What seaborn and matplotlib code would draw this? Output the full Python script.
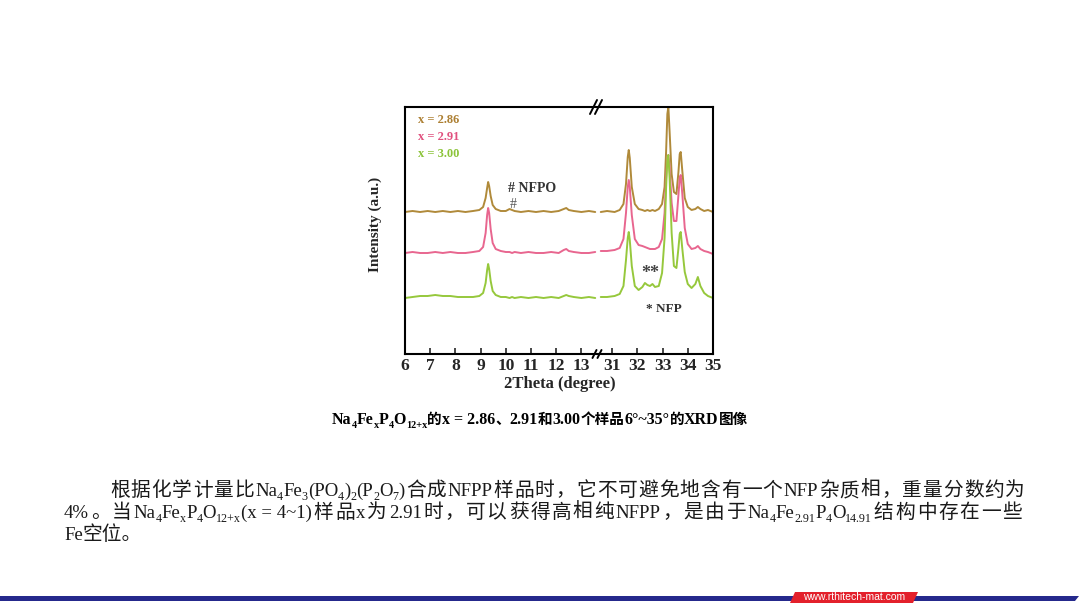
import matplotlib.pyplot as plt
import pandas as pd
import seaborn as sns
from matplotlib.lines import Line2D
from matplotlib.patches import Polygon

# ---- data (arbitrary intensity units) ----
samples = ["x = 2.86", "x = 2.91", "x = 3.00"]
offsets = [142, 101, 56]
colors = ["#b08a3a", "#e8668f", "#96c83c"]
label_colors = ["#ad8034", "#e0507e", "#8cc43a"]

two_theta_low = [6.0, 6.3, 6.6, 6.9, 7.2, 7.5, 7.8, 8.1, 8.4, 8.7, 8.95, 9.1,
                 9.2, 9.26, 9.3, 9.34, 9.4, 9.48, 9.6, 9.8, 10.0, 10.15, 10.25,
                 10.35, 10.6, 10.9, 11.2, 11.5, 11.8, 12.1, 12.3, 12.4, 12.5,
                 12.7, 13.0, 13.3, 13.55]
low_286 = [0, 1, 0, 1, 0, 1, 0, 1, 0, 1, 2, 5, 14, 24, 30, 26, 16, 7, 3, 1, 1,
           3, 2, 1, 0, 1, 0, 1, 0, 1, 3, 4, 2, 1, 0, 1, 0]
low_291 = [0, 1, 0, 0, 1, 0, 1, 0, 0, 1, 2, 6, 20, 38, 45, 40, 24, 10, 4, 2, 1,
           1, 0, 1, 0, 1, 0, 0, 1, 0, 3, 4, 2, 1, 0, 0, 1]
low_300 = [0, 1, 2, 2, 3, 2, 2, 1, 1, 1, 2, 5, 15, 28, 34, 29, 17, 7, 3, 1, 1,
           0, 1, 0, 1, 0, 1, 0, 1, 0, 2, 3, 2, 1, 0, 1, 0]

two_theta_high = [30.55, 30.8, 31.1, 31.3, 31.45, 31.55, 31.62, 31.66, 31.7,
                  31.78, 31.9, 32.05, 32.2, 32.3, 32.4, 32.5, 32.6, 32.7, 32.85,
                  32.98, 33.08, 33.14, 33.19, 33.23, 33.28, 33.36, 33.45, 33.55,
                  33.63, 33.68, 33.72, 33.78, 33.88, 34.0, 34.15, 34.3, 34.4,
                  34.5, 34.65, 34.8, 35.0]
high_286 = [0, 1, 0, 2, 8, 28, 55, 62, 54, 25, 8, 3, 2, 1, 2, 1, 2, 1, 3, 8, 25,
            60, 98, 105, 80, 38, 20, 18, 40, 58, 60, 42, 14, 5, 2, 3, 5, 3, 1,
            2, 0]
high_291 = [2, 2, 3, 5, 14, 40, 66, 73, 66, 38, 14, 8, 7, 6, 5, 4, 4, 4, 6, 14,
            40, 75, 95, 98, 85, 50, 32, 32, 58, 75, 78, 60, 25, 9, 4, 5, 7, 4,
            2, 1, -1]
high_300 = [1, 1, 2, 4, 12, 38, 60, 66, 58, 32, 12, 8, 11, 15, 13, 12, 14, 11,
            12, 25, 60, 110, 140, 143, 120, 65, 32, 30, 50, 64, 66, 50, 26, 14,
            10, 14, 21, 12, 5, 2, 0]

ticks_low = [6, 7, 8, 9, 10, 11, 12, 13]
ticks_high = [31, 32, 33, 34, 35]

W, H = 1080, 608
SERIF = "Liberation Serif"
CJK = "Noto Sans CJK SC"


def fx(x):
    return x / W


def fy(y):
    return 1 - y / H


def long_frame(theta, series):
    rows = []
    for name, off, vals in zip(samples, offsets, series):
        for t, v in zip(theta, vals):
            rows.append((name, t, v + off))
    return pd.DataFrame(rows, columns=["sample", "two_theta", "intensity"])


def is_cjk(ch):
    return ord(ch) >= 0x2E80 or ch in "、，。"


def split_script(s, per_char):
    # latin chunks stay whole, CJK chars are split (for justification)
    parts = []
    for ch in s:
        c = is_cjk(ch)
        if parts and parts[-1][1] == c and not (c and per_char):
            parts[-1][0] += ch
        else:
            parts.append([ch, c])
    return parts


def rich_text(fig, x, y, runs, cjk_size, latin_size, weight="normal",
              color="black", center=False, right=None):
    # text runs drawn one after another; subscripts smaller and lowered
    renderer = fig.canvas.get_renderer()
    items = []
    total = 0.0
    for s, sub in runs:
        for piece, cjk in split_script(s, right is not None):
            fs = cjk_size if cjk else latin_size
            if sub:
                fs *= 0.64
            t = fig.text(0, 0, piece, fontsize=fs, fontweight=weight,
                         color=color, family=[CJK, SERIF] if cjk else [SERIF, CJK],
                         va="baseline", transform=None)
            w = t.get_window_extent(renderer).width
            dy = -latin_size * 0.22 * 100 / 72 if sub else 0
            items.append((t, total, dy, cjk))
            total += w
    x0 = x - total / 2 if center else x
    # extra space only goes into gaps next to CJK characters
    gaps = [i for i in range(1, len(items)) if items[i - 1][3] or items[i][3]]
    step = ((right - x) - total) / len(gaps) if (right is not None and gaps) else 0.0
    shift = 0.0
    for i, (t, dx, dy, _) in enumerate(items):
        if i in gaps:
            shift += step
        t.set_position((x0 + dx + shift, H - y + dy))


sns.set_style("white")
plt.rcParams["font.family"] = [SERIF, CJK]

fig = plt.figure(figsize=(10.8, 6.08), dpi=100)
ax_lo = fig.add_axes([fx(405), fy(354), 194 / W, 247 / H])
ax_hi = fig.add_axes([fx(599), fy(354), 114 / W, 247 / H])

palette = dict(zip(samples, colors))
df_lo = long_frame(two_theta_low, [low_286, low_291, low_300])
df_hi = long_frame(two_theta_high, [high_286, high_291, high_300])

for ax, df, lim, ticks in [(ax_lo, df_lo, (6, 13.7), ticks_low),
                           (ax_hi, df_hi, (30.48, 35.0), ticks_high)]:
    sns.lineplot(data=df, x="two_theta", y="intensity", hue="sample",
                 palette=palette, estimator=None, sort=False, legend=False,
                 linewidth=1.4, ax=ax)
    ax.set_xlim(*lim)
    ax.set_ylim(0, 247)
    ax.set_xticks(ticks)
    ax.set_xticklabels([str(t) for t in ticks], fontsize=12.5,
                       fontweight="bold", family=SERIF)
    ax.set_yticks([])
    ax.set_xlabel("")
    ax.set_ylabel("")
    ax.tick_params(axis="x", direction="in", length=4, width=1.2, pad=3,
                   bottom=True, top=False)
    for sp in ax.spines.values():
        sp.set_linewidth(1.5)
        sp.set_color("black")

ax_lo.spines["right"].set_visible(False)
ax_hi.spines["left"].set_visible(False)

# axis break marks
for cx, cy, h in [(596, 107, 7), (597, 354, 4)]:
    for dx in (-2.5, 2.5):
        fig.add_artist(Line2D([fx(cx + dx - h * 0.5), fx(cx + dx + h * 0.5)],
                              [fy(cy + h), fy(cy - h)], color="black", lw=1.4))

fig.text(fx(560), fy(384), "2Theta (degree)", fontsize=12, fontweight="bold",
         family=SERIF, ha="center", va="center")
fig.text(fx(375), fy(224), "Intensity (a.u.)", fontsize=11, fontweight="bold",
         family=SERIF, ha="center", va="center", rotation=90)

for name, c, yy in zip(samples, label_colors, [120, 137, 154]):
    fig.text(fx(418), fy(yy), name, fontsize=9, fontweight="bold",
             family=SERIF, color=c, va="center")

fig.text(fx(508), fy(189), "# NFPO", fontsize=10, fontweight="bold",
         family=SERIF, color="#333333", va="center")
fig.text(fx(510), fy(205), "#", fontsize=10, family=SERIF,
         color="#555555", va="center")
fig.text(fx(641), fy(274), "**", fontsize=13, fontweight="bold",
         family=SERIF, color="#444444", va="center")
fig.text(fx(646), fy(309), "* NFP", fontsize=9.5, fontweight="bold",
         family=SERIF, color="#333333", va="center")

# caption
rich_text(fig, 540, 424, [("Na", 0), ("4", 1), ("Fe", 0), ("x", 1), ("P", 0),
                          ("4", 1), ("O", 0), ("12+x", 1),
                          ("的x = 2.86、2.91和3.00个样品6°~35°的XRD图像", 0)],
          10.5, 11.5, weight="bold", center=True)

# paragraph
para_color = "#1a1a1a"
rich_text(fig, 110, 496, [("根据化学计量比Na", 0), ("4", 1), ("Fe", 0), ("3", 1),
                          ("(PO", 0), ("4", 1), (")", 0), ("2", 1), ("(P", 0),
                          ("2", 1), ("O", 0), ("7", 1),
                          (")合成NFPP样品时，它不可避免地含有一个NFP杂质相，重量分数约为", 0)],
          14.2, 13.5, color=para_color, right=1025)
rich_text(fig, 64, 518, [("4%。当Na", 0), ("4", 1), ("Fe", 0), ("x", 1), ("P", 0),
                         ("4", 1), ("O", 0), ("12+x", 1),
                         ("(x = 4~1)样品x为2.91时，可以获得高相纯NFPP，是由于Na", 0),
                         ("4", 1), ("Fe", 0), ("2.91", 1), ("P", 0), ("4", 1),
                         ("O", 0), ("14.91", 1), ("结构中存在一些", 0)],
          14.2, 13.5, color=para_color, right=1022)
rich_text(fig, 64, 540, [("Fe空位。", 0)], 14.2, 13.5, color=para_color)

# footer band
fig.add_artist(Polygon([(fx(0), fy(596)), (fx(1079), fy(596)),
                        (fx(1075), fy(601)), (fx(0), fy(601))],
                       closed=True, color="#25298c", lw=0))
fig.add_artist(Polygon([(fx(790), fy(603)), (fx(795), fy(592)),
                        (fx(918), fy(592)), (fx(913), fy(603))],
                       closed=True, color="#e3202b", lw=0))
fig.text(fx(854), fy(597.5), "www.rthitech-mat.com", fontsize=7.5,
         family="Liberation Sans", color="white", ha="center", va="center")

fig.savefig("out.png", dpi=100, facecolor="white")
